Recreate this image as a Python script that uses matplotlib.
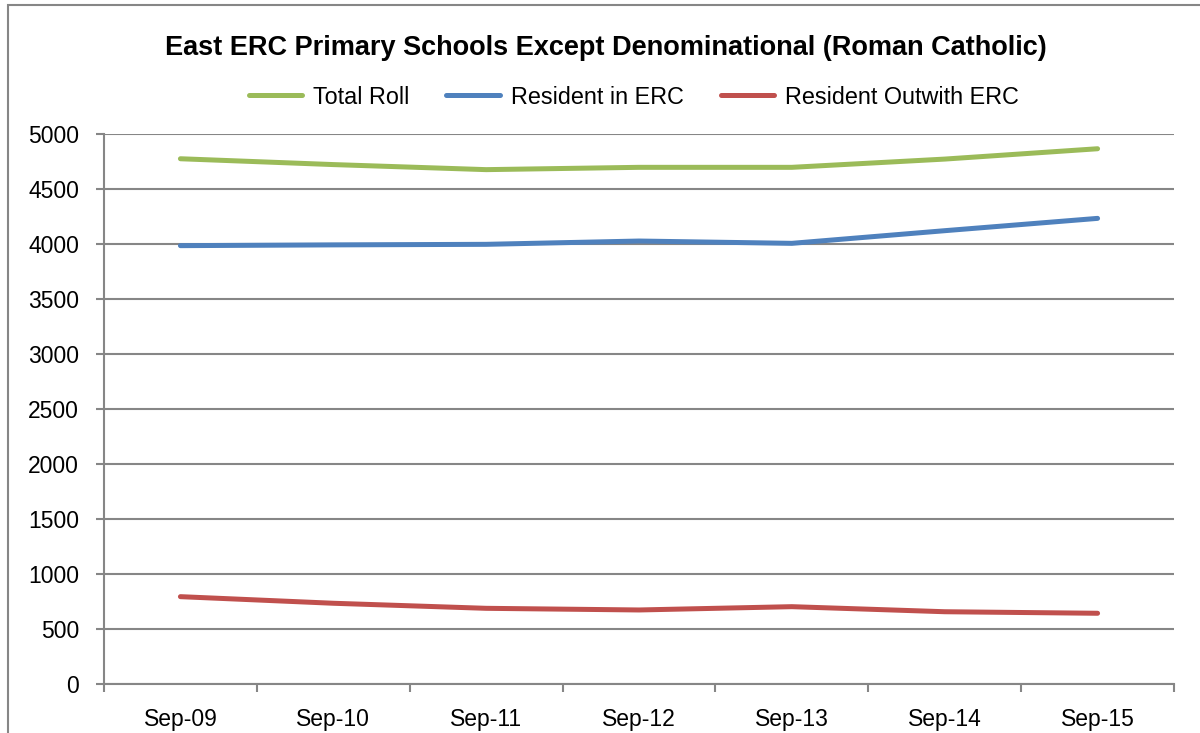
import matplotlib
matplotlib.use("Agg")
import matplotlib.pyplot as plt
from matplotlib.patches import Rectangle

plt.rcParams['font.family'] = ['Liberation Sans', 'DejaVu Sans']

# data
categories = ["Sep-09", "Sep-10", "Sep-11", "Sep-12", "Sep-13", "Sep-14", "Sep-15"]
total_roll = [4775, 4722, 4676, 4697, 4697, 4772, 4866]
resident_in = [3985, 3992, 3997, 4027, 4006, 4121, 4233]
resident_out = [794, 734, 688, 673, 703, 657, 643]

series = [
    ("Total Roll", total_roll, "#9BBB59"),
    ("Resident in ERC", resident_in, "#4F81BD"),
    ("Resident Outwith ERC", resident_out, "#C0504D"),
]

grid_col = "#868686"

fig = plt.figure(figsize=(12, 7.33), dpi=100)
ax = fig.add_axes([104 / 1200, 49 / 733, 1070 / 1200, 550 / 733])

# chart area border (partly cut off like the reference)
fig.patches.append(Rectangle((8 / 1200, -0.1), 1.2, 1 - 5 / 733 + 0.1,
                             transform=fig.transFigure, fill=False,
                             edgecolor=grid_col, linewidth=1.5))

x = list(range(len(categories)))
for name, vals, col in series:
    ax.plot(x, vals, color=col, linewidth=3.6, solid_capstyle="round",
            solid_joinstyle="round", label=name)

ax.set_xlim(-0.5, len(categories) - 0.5)
ax.set_ylim(0, 5000)
ax.set_yticks(range(0, 5001, 500))
ax.yaxis.grid(True, color=grid_col, linewidth=1.5)
ax.set_axisbelow(True)

ax.set_xticks(x)
ax.set_xticklabels(categories)
ax.set_xticks([i - 0.5 for i in range(len(categories) + 1)], minor=True)
ax.tick_params(axis="x", which="major", length=0, pad=17, labelsize=16.5)
ax.tick_params(axis="x", which="minor", length=6, width=1.5, color=grid_col,
               direction="out")
ax.tick_params(axis="y", length=6, width=1.5, color=grid_col, pad=12,
               labelsize=16.5)

for s in ["top", "right"]:
    ax.spines[s].set_visible(False)
for s in ["left", "bottom"]:
    ax.spines[s].set_color(grid_col)
    ax.spines[s].set_linewidth(1.5)

fig.text(0.505, 1 - 48 / 733, "East ERC Primary Schools Except Denominational (Roman Catholic)",
         ha="center", va="center", fontsize=19.5, fontweight="bold")

ax.legend(loc="center", bbox_to_anchor=(0.495, 1 + 37 / 550), ncol=3, frameon=False,
          fontsize=16.8, handlelength=2.3, handletextpad=0.45, columnspacing=1.6)

fig.savefig("out.png", dpi=100)
